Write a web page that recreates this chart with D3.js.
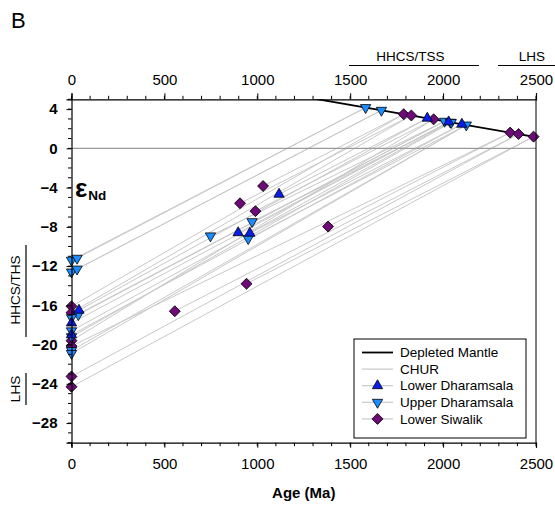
<!DOCTYPE html>
<html>
<head>
<meta charset="utf-8">
<script src="https://cdn.jsdelivr.net/npm/d3@7"></script>
<style>
  html, body { margin: 0; padding: 0; background: #fff; }
  svg { display: block; font-family: "Liberation Sans", Arial, sans-serif; }
</style>
</head>
<body>
<svg id="chart" width="555" height="506"></svg>
<script>
// Depleted mantle evolution (age in Ma, epsilon Nd)
const dmAge = [0, 2500];
const dmEps = [9.35, 1.15];

// CHUR reference
const churEps = 0;

// Lower Dharamsala: present-day (or depositional-age) values, older-age values, TDM ages
const ldAge0 = [40, 0, 0];
const ldEps0 = [-16.5, -17.8, -19.0];
const ldTdm0 = [1915, 2030, 2101];
const ldAgeT = [1117, 897, 960];
const ldEpsT = [-4.68, -8.6, -8.65];
const ldTdmT = [1915, 2030, 2101];

// Upper Dharamsala
const udAge0 = [0, 30, 0, 30, 37, 0, 0, 0, 0, 0];
const udEps0 = [-11.4, -11.2, -12.6, -12.3, -16.95, -17.25, -18.6, -19.2, -20.6, -20.9];
const udTdm0 = [1583, 1583, 1668, 1668, 2008, 2008, 2039, 2044, 2125, 2125];
const udAgeT = [748, 972, 951];
const udEpsT = [-8.92, -7.47, -9.2];
const udTdmT = [2008, 2039, 2125];

// Lower Siwalik
const lsAge0 = [0, 0, 0, 0, 0, 0];
const lsEps0 = [-16.1, -16.75, -19.6, -20.15, -23.25, -24.3];
const lsTdm0 = [1788, 1829, 1949, 2361, 2406, 2487];
const lsAgeT = [1031, 907, 990, 1381, 942, 556];
const lsEpsT = [-3.84, -5.6, -6.4, -7.97, -13.8, -16.6];
const lsTdmT = [1788, 1829, 1949, 2361, 2487, 2406];

// Axis ticks
const xTicks = [0, 500, 1000, 1500, 2000, 2500];
const yTicks = [4, 0, -4, -8, -12, -16, -20, -24, -28];

const colors = { ld: "#0A1EEB", ud: "#1E8CFF", ls: "#6E0A78" };

const svg = d3.select("#chart");
const plotL = 71.5, plotR = 536, plotT = 99.3, plotB = 442.7;

const x = d3.scaleLinear().domain([0, 2500]).range([plotL, plotR]);
const y = d3.scaleLinear().domain([-30, 5]).range([plotB, plotT]);
const dm = d3.scaleLinear().domain(dmAge).range(dmEps);

svg.append("defs").append("clipPath").attr("id", "plotClip")
  .append("rect").attr("x", plotL).attr("y", plotT)
  .attr("width", plotR - plotL).attr("height", plotB - plotT);

const plot = svg.append("g").attr("clip-path", "url(#plotClip)");

// Evolution lines from each sample to its depleted-mantle model age
function segments(ages, eps, tdms) {
  return ages.map((a, i) => ({ a0: a, e0: eps[i], a1: tdms[i], e1: dm(tdms[i]) }));
}
const segs = [].concat(
  segments(ldAge0, ldEps0, ldTdm0), segments(ldAgeT, ldEpsT, ldTdmT),
  segments(udAge0, udEps0, udTdm0), segments(udAgeT, udEpsT, udTdmT),
  segments(lsAge0, lsEps0, lsTdm0), segments(lsAgeT, lsEpsT, lsTdmT)
);
plot.selectAll("line.evo").data(segs).join("line")
  .attr("class", "evo")
  .attr("x1", d => x(d.a0)).attr("y1", d => y(d.e0))
  .attr("x2", d => x(d.a1)).attr("y2", d => y(d.e1))
  .attr("stroke", "#c8c8c8").attr("stroke-width", 1);

// CHUR
plot.append("line")
  .attr("x1", x(0)).attr("x2", x(2500))
  .attr("y1", y(churEps)).attr("y2", y(churEps))
  .attr("stroke", "#9a9a9a").attr("stroke-width", 1.3);

// Depleted mantle
plot.append("path")
  .datum(dmAge.map((a, i) => [a, dmEps[i]]))
  .attr("d", d3.line().x(d => x(d[0])).y(d => y(d[1])))
  .attr("fill", "none").attr("stroke", "#000").attr("stroke-width", 1.8);

// Markers
const triUp = d3.symbol().type(d3.symbolTriangle).size(46);
const diamond = d3.symbol().type(d3.symbolSquare).size(60);

function pts(ages, eps) { return ages.map((a, i) => [a, eps[i]]); }
const ldPts = [].concat(pts(ldAge0, ldEps0), pts(ldAgeT, ldEpsT), ldTdm0.map(t => [t, dm(t)]));
const udPts = [].concat(pts(udAge0, udEps0), pts(udAgeT, udEpsT), Array.from(new Set(udTdm0)).map(t => [t, dm(t)]));
const lsPts = [].concat(pts(lsAge0, lsEps0), pts(lsAgeT, lsEpsT), lsTdm0.map(t => [t, dm(t)]));

const marks = svg.append("g");
marks.selectAll("path.ls").data(lsPts).join("path").attr("class", "ls")
  .attr("d", diamond)
  .attr("transform", d => `translate(${x(d[0])},${y(d[1])}) rotate(45)`)
  .attr("fill", colors.ls).attr("stroke", "#000").attr("stroke-width", 0.8);
marks.selectAll("path.ud").data(udPts).join("path").attr("class", "ud")
  .attr("d", triUp)
  .attr("transform", d => `translate(${x(d[0])},${y(d[1])}) rotate(180)`)
  .attr("fill", colors.ud).attr("stroke", "#000").attr("stroke-width", 0.8);
marks.selectAll("path.ld").data(ldPts).join("path").attr("class", "ld")
  .attr("d", triUp)
  .attr("transform", d => `translate(${x(d[0])},${y(d[1])})`)
  .attr("fill", colors.ld).attr("stroke", "#000").attr("stroke-width", 0.8);

// Frame on the right
svg.append("line").attr("x1", plotR).attr("x2", plotR).attr("y1", plotT).attr("y2", plotB)
  .attr("stroke", "#000").attr("stroke-width", 1);

// Axes
const minorX = d3.range(0, 2501, 100);
const minorY = d3.range(-30, 6, 1);

const xBottom = svg.append("g").attr("transform", `translate(0,${plotB})`)
  .call(d3.axisBottom(x).tickValues(xTicks).tickSize(5).tickPadding(11).tickFormat(d3.format("d")));
const xTop = svg.append("g").attr("transform", `translate(0,${plotT})`)
  .call(d3.axisTop(x).tickValues(xTicks).tickSize(6).tickPadding(8).tickFormat(d3.format("d")));
const yLeft = svg.append("g").attr("transform", `translate(${plotL},0)`)
  .call(d3.axisLeft(y).tickValues(yTicks).tickSize(5).tickPadding(9).tickFormat(d3.format("d")));

[xBottom, xTop, yLeft].forEach(g => {
  g.select(".domain").attr("stroke", "#000").attr("stroke-width", 1.2);
  g.selectAll(".tick line").attr("stroke", "#000").attr("stroke-width", 1);
  g.selectAll("text").attr("font-size", 15).attr("fill", "#000")
    .attr("font-family", "Liberation Sans, Arial, sans-serif");
});
yLeft.selectAll("text").attr("font-weight", "bold");

xBottom.selectAll(".minor").data(minorX).join("line").attr("class", "minor")
  .attr("x1", d => x(d)).attr("x2", d => x(d)).attr("y1", 0).attr("y2", 3.5)
  .attr("stroke", "#000");
xTop.selectAll(".minor").data(minorX).join("line").attr("class", "minor")
  .attr("x1", d => x(d)).attr("x2", d => x(d)).attr("y1", 0).attr("y2", -3.5)
  .attr("stroke", "#000");
yLeft.selectAll(".minor").data(minorY).join("line").attr("class", "minor")
  .attr("y1", d => y(d)).attr("y2", d => y(d)).attr("x1", 0).attr("x2", -3.5)
  .attr("stroke", "#000");

// Axis title
svg.append("text").attr("x", (plotL + plotR) / 2).attr("y", 498)
  .attr("text-anchor", "middle").attr("font-size", 15).attr("font-weight", "bold")
  .text("Age (Ma)");

// Panel letter
svg.append("text").attr("x", 11).attr("y", 28).attr("font-size", 22).text("B");

// Epsilon Nd label
const epsLabel = svg.append("text").attr("x", 75).attr("y", 197).attr("font-weight", "bold");
epsLabel.append("tspan").attr("font-size", 26).text("ε");
epsLabel.append("tspan").attr("font-size", 13.5).attr("dx", 1).attr("dy", 3).text("Nd");

// Terrane ranges along the top
svg.append("text").attr("x", 410.5).attr("y", 61).attr("text-anchor", "middle")
  .attr("font-size", 13.5).text("HHCS/TSS");
svg.append("line").attr("x1", 349).attr("x2", 479).attr("y1", 65.5).attr("y2", 65.5)
  .attr("stroke", "#000").attr("stroke-width", 1.2);
svg.append("text").attr("x", 532).attr("y", 61).attr("text-anchor", "middle")
  .attr("font-size", 13.5).text("LHS");
svg.append("line").attr("x1", 498).attr("x2", 555).attr("y1", 65.5).attr("y2", 65.5)
  .attr("stroke", "#000").attr("stroke-width", 1.2);

// Terrane ranges along the left
svg.append("text").attr("transform", `translate(20,290) rotate(-90)`)
  .attr("text-anchor", "middle").attr("font-size", 13.5).text("HHCS/THS");
svg.append("line").attr("x1", 26).attr("x2", 26).attr("y1", 245).attr("y2", 337)
  .attr("stroke", "#000").attr("stroke-width", 1.2);
svg.append("text").attr("transform", `translate(20,389) rotate(-90)`)
  .attr("text-anchor", "middle").attr("font-size", 13.5).text("LHS");
svg.append("line").attr("x1", 26).attr("x2", 26).attr("y1", 373).attr("y2", 405)
  .attr("stroke", "#000").attr("stroke-width", 1.2);

// Legend
const legendItems = [
  { label: "Depleted Mantle", type: "dm" },
  { label: "CHUR", type: "chur" },
  { label: "Lower Dharamsala", type: "ld" },
  { label: "Upper Dharamsala", type: "ud" },
  { label: "Lower Siwalik", type: "ls" }
];
const lg = svg.append("g");
lg.append("rect").attr("x", 354).attr("y", 339).attr("width", 172).attr("height", 99)
  .attr("fill", "#fff").attr("stroke", "#000").attr("stroke-width", 1);
legendItems.forEach((it, i) => {
  const cy = 352.5 + i * 16.6;
  lg.append("line").attr("x1", 362).attr("x2", 393).attr("y1", cy).attr("y2", cy)
    .attr("stroke", it.type === "dm" ? "#000" : "#c8c8c8")
    .attr("stroke-width", it.type === "dm" ? 1.8 : 1.2);
  if (it.type === "ld") {
    lg.append("path").attr("d", triUp).attr("transform", `translate(377.5,${cy})`)
      .attr("fill", colors.ld).attr("stroke", "#000").attr("stroke-width", 0.8);
  } else if (it.type === "ud") {
    lg.append("path").attr("d", triUp).attr("transform", `translate(377.5,${cy}) rotate(180)`)
      .attr("fill", colors.ud).attr("stroke", "#000").attr("stroke-width", 0.8);
  } else if (it.type === "ls") {
    lg.append("path").attr("d", diamond).attr("transform", `translate(377.5,${cy}) rotate(45)`)
      .attr("fill", colors.ls).attr("stroke", "#000").attr("stroke-width", 0.8);
  }
  lg.append("text").attr("x", 400).attr("y", cy).attr("dy", "0.35em")
    .attr("font-size", 13.5).text(it.label);
});
</script>
</body>
</html>
